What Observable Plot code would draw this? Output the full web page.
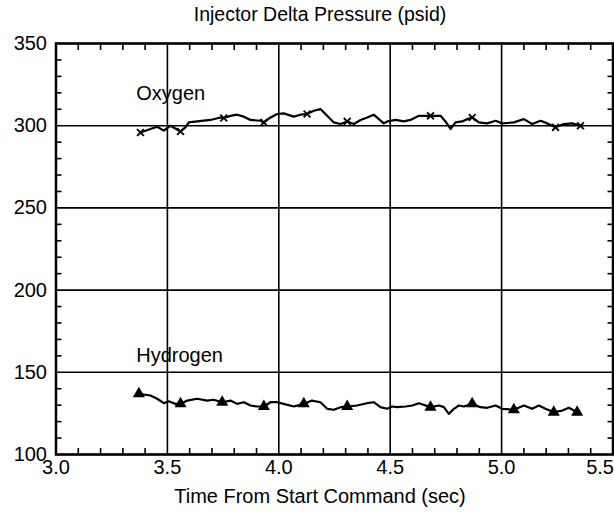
<!DOCTYPE html>
<html>
<head>
<meta charset="utf-8">
<script src="https://cdn.jsdelivr.net/npm/d3@7"></script>
<script src="https://cdn.jsdelivr.net/npm/@observablehq/plot@0.6"></script>
<style>
  body { margin: 0; background: #fff; overflow: hidden; }
  #wrap { width: 614px; font-family: "Liberation Sans", Arial, sans-serif; color: #000; }
  .title { width: 614px; box-sizing: border-box; padding-left: 26px; height: 30px; line-height: 28px; font-size: 19.5px; text-align: center; }
  .xlabel { width: 614px; box-sizing: border-box; padding-left: 26px; height: 40px; line-height: 28px; font-size: 20px; text-align: center; }
  svg { display: block; }
</style>
</head>
<body>
<div id="wrap">
  <div class="title">Injector Delta Pressure (psid)</div>
  <div id="chart"></div>
  <div class="xlabel">Time From Start Command (sec)</div>
</div>
<script>
// ---- data ----
const oxygenTime = [3.379, 3.424, 3.454, 3.484, 3.514, 3.559, 3.581, 3.596, 3.634, 3.693, 3.738, 3.753, 3.783, 3.813, 3.843, 3.873, 3.918, 3.933, 3.963, 3.993, 4.022, 4.067, 4.097, 4.127, 4.157, 4.187, 4.217, 4.247, 4.277, 4.307, 4.337, 4.367, 4.397, 4.426, 4.449, 4.471, 4.487, 4.524, 4.561, 4.591, 4.629, 4.681, 4.726, 4.748, 4.771, 4.793, 4.823, 4.846, 4.868, 4.898, 4.935, 4.973, 5.003, 5.055, 5.100, 5.137, 5.175, 5.205, 5.242, 5.279, 5.317, 5.354];
const oxygenPsid = [295.9, 298.0, 299.4, 297.0, 300.0, 296.5, 299.0, 302.0, 302.6, 303.5, 305.0, 304.7, 306.0, 306.7, 305.5, 303.5, 303.0, 302.0, 305.0, 307.1, 307.5, 305.5, 306.7, 307.1, 309.1, 310.1, 306.0, 302.0, 301.0, 302.6, 301.0, 303.5, 305.0, 306.7, 304.0, 301.4, 302.6, 303.5, 302.6, 303.5, 306.0, 306.0, 306.0, 302.6, 298.0, 302.0, 302.6, 304.0, 305.0, 302.0, 301.4, 303.0, 301.4, 302.0, 304.0, 301.0, 303.0, 301.4, 299.0, 301.0, 301.4, 300.0];
const oxygenMarkTime = [3.379, 3.559, 3.753, 3.933, 4.127, 4.307, 4.681, 4.868, 5.242, 5.354];
const oxygenMarkPsid = [295.9, 296.5, 304.7, 302.0, 307.1, 302.6, 306.0, 305.0, 299.0, 300.0];

const hydrogenTime = [3.372, 3.394, 3.424, 3.454, 3.484, 3.506, 3.536, 3.559, 3.589, 3.634, 3.678, 3.708, 3.746, 3.783, 3.813, 3.843, 3.873, 3.903, 3.933, 3.963, 3.993, 4.022, 4.067, 4.112, 4.149, 4.187, 4.217, 4.247, 4.277, 4.307, 4.351, 4.396, 4.426, 4.456, 4.487, 4.509, 4.531, 4.569, 4.599, 4.629, 4.681, 4.719, 4.741, 4.763, 4.786, 4.808, 4.831, 4.868, 4.905, 4.935, 4.973, 5.003, 5.055, 5.100, 5.137, 5.167, 5.197, 5.234, 5.272, 5.302, 5.339];
const hydrogenPsid = [136.9, 136.5, 135.9, 133.9, 131.2, 132.4, 130.8, 130.8, 132.8, 133.9, 132.8, 133.3, 131.8, 132.8, 130.8, 131.8, 129.8, 129.2, 129.2, 131.8, 131.8, 130.8, 129.2, 130.8, 132.8, 131.8, 127.8, 127.2, 128.8, 129.2, 129.8, 131.2, 131.8, 128.8, 127.8, 129.2, 128.8, 129.2, 129.8, 131.2, 128.8, 129.8, 128.8, 124.7, 127.8, 129.8, 129.2, 130.8, 128.8, 128.4, 129.8, 127.8, 127.2, 129.8, 127.8, 129.8, 127.8, 125.7, 126.7, 128.4, 125.7];
const hydrogenMarkTime = [3.372, 3.559, 3.746, 3.933, 4.112, 4.307, 4.681, 4.868, 5.055, 5.234, 5.339];
const hydrogenMarkPsid = [136.9, 130.8, 131.8, 129.2, 130.8, 129.2, 128.8, 130.8, 127.2, 125.7, 125.7];

const seriesNames = ["Oxygen", "Hydrogen"];
const seriesLabelTime = [3.36, 3.36];
const seriesLabelPsid = [315.5, 156.5];

const xMajorTicks = [3.0, 3.5, 4.0, 4.5, 5.0, 5.5];
const xTickLabels = ["3.0", "3.5", "4.0", "4.5", "5.0", "5.5"];
const xMinorTicks = [3.1, 3.2, 3.3, 3.4, 3.6, 3.7, 3.8, 3.9, 4.1, 4.2, 4.3, 4.4, 4.6, 4.7, 4.8, 4.9, 5.1, 5.2, 5.3, 5.4];
const yMajorTicks = [100, 150, 200, 250, 300, 350];
const yTickLabels = ["100", "150", "200", "250", "300", "350"];
const yMinorTicks = [110, 120, 130, 140, 160, 170, 180, 190, 210, 220, 230, 240, 260, 270, 280, 290, 310, 320, 330, 340];

// ---- build tables ----
const oxygen = oxygenTime.map((t, i) => ({t, v: oxygenPsid[i]}));
const hydrogen = hydrogenTime.map((t, i) => ({t, v: hydrogenPsid[i]}));
const oxygenMarks = oxygenMarkTime.map((t, i) => ({t, v: oxygenMarkPsid[i]}));
const hydrogenMarks = hydrogenMarkTime.map((t, i) => ({t, v: hydrogenMarkPsid[i]}));
const labels = seriesNames.map((name, i) => ({name, t: seriesLabelTime[i], v: seriesLabelPsid[i]}));
const lastX = xMajorTicks.length - 1;

const font = '"Liberation Sans", Arial, sans-serif';
const minorLen = -6;

const chart = Plot.plot({
  width: 614,
  height: 452,
  marginTop: 13,
  marginLeft: 55.5,
  marginRight: 1.5,
  marginBottom: 28,
  style: {fontFamily: font, fontSize: "20px", color: "#000", background: "#fff", overflow: "visible"},
  x: {domain: [3.0, 5.5]},
  y: {domain: [100, 350]},
  marks: [
    Plot.gridX(xMajorTicks, {stroke: "#000", strokeOpacity: 1, strokeWidth: 1.6}),
    Plot.gridY(yMajorTicks, {stroke: "#000", strokeOpacity: 1, strokeWidth: 1.6}),
    Plot.axisX({anchor: "bottom", ticks: xMinorTicks, tickSize: minorLen, fill: "none", strokeWidth: 1.6, label: null}),
    Plot.axisX({anchor: "top", ticks: xMinorTicks, tickSize: minorLen, fill: "none", strokeWidth: 1.6, label: null}),
    Plot.axisY({anchor: "left", ticks: yMinorTicks, tickSize: minorLen, fill: "none", strokeWidth: 1.6, label: null}),
    Plot.axisY({anchor: "right", ticks: yMinorTicks, tickSize: minorLen, fill: "none", strokeWidth: 1.6, label: null}),
    Plot.axisX({anchor: "bottom", ticks: xMajorTicks.slice(0, lastX), tickSize: 0, tickPadding: 5, fontSize: 20,
      tickFormat: (d, i) => xTickLabels[i], label: null}),
    Plot.axisX({anchor: "bottom", ticks: xMajorTicks.slice(lastX), tickSize: 0, tickPadding: 5, fontSize: 20,
      textAnchor: "end", dx: 1, tickFormat: () => xTickLabels[lastX], label: null}),
    Plot.axisY({anchor: "left", ticks: yMajorTicks, tickSize: 0, tickPadding: 9, fontSize: 20,
      tickFormat: (d, i) => yTickLabels[i], label: null}),
    Plot.frame({stroke: "#000", strokeWidth: 2.5}),
    Plot.line(oxygen, {x: "t", y: "v", stroke: "#000", strokeWidth: 2.2, curve: "linear"}),
    Plot.line(hydrogen, {x: "t", y: "v", stroke: "#000", strokeWidth: 2.2, curve: "linear"}),
    Plot.dot(oxygenMarks, {x: "t", y: "v", symbol: "times", r: 3.2, stroke: "#000", strokeWidth: 1.8}),
    Plot.dot(hydrogenMarks, {x: "t", y: "v", symbol: "triangle", r: 4.5, fill: "#000", stroke: "none"}),
    Plot.text(labels, {x: "t", y: "v", text: "name", textAnchor: "start", lineAnchor: "bottom", fontSize: 20, fill: "#000"})
  ]
});
document.getElementById("chart").appendChild(chart);
</script>
</body>
</html>
